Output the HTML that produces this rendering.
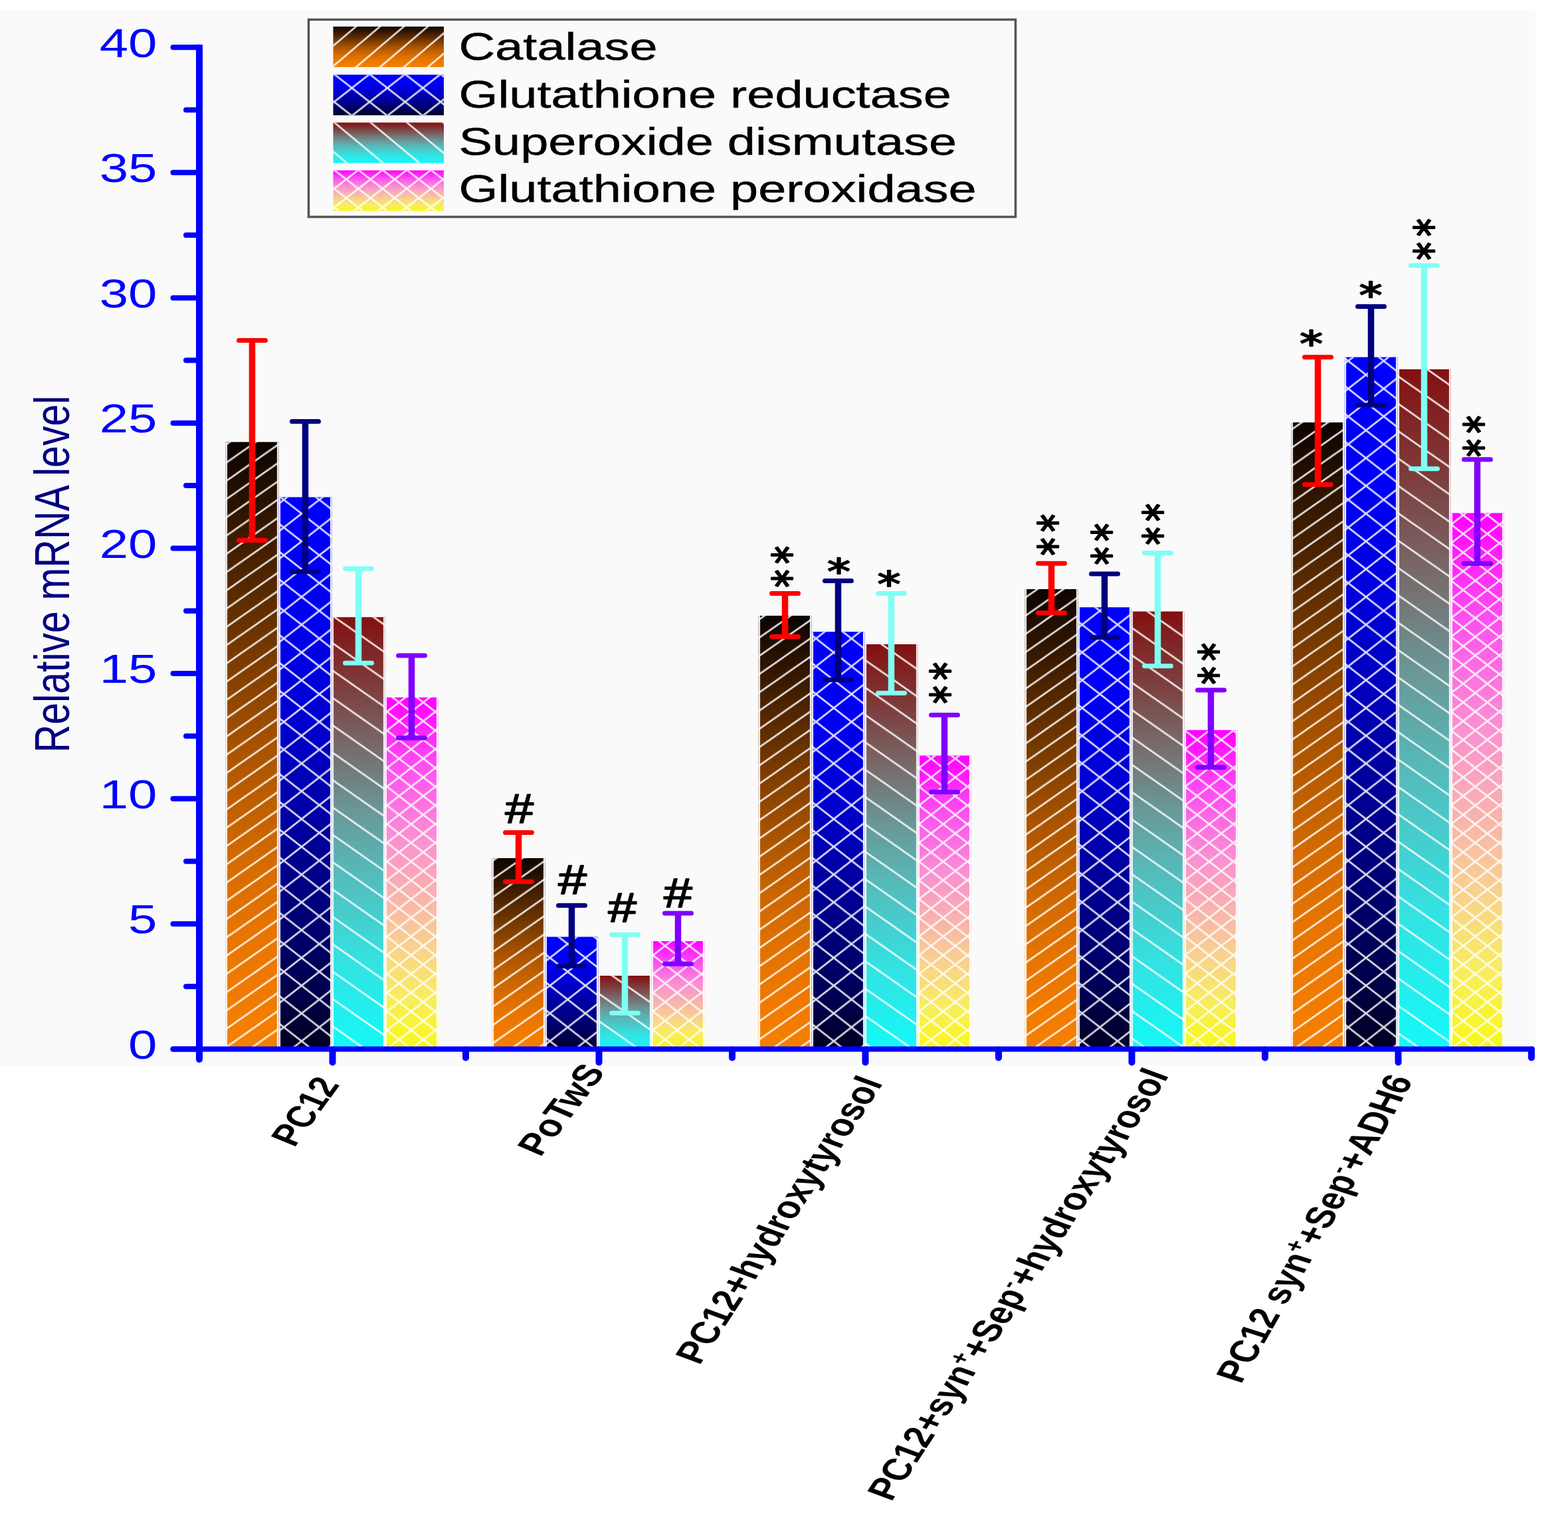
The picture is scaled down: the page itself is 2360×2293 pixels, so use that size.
<!DOCTYPE html><html><head><meta charset="utf-8"><title>Relative mRNA level</title>
<style>html,body{margin:0;padding:0;background:#fff;overflow:hidden;}svg{display:block;}text{font-family:"Liberation Sans",Arial,sans-serif;}</style></head><body>
<svg width="2360" height="2293" viewBox="0 0 2360 2293">
<defs>
<linearGradient id="gCat" x1="0" y1="0" x2="0" y2="1"><stop offset="0" stop-color="#0c0400"/><stop offset="0.1" stop-color="#2a1200"/><stop offset="0.2" stop-color="#4a2200"/><stop offset="0.3" stop-color="#683200"/><stop offset="0.4" stop-color="#884200"/><stop offset="0.5" stop-color="#a85200"/><stop offset="0.6" stop-color="#c06000"/><stop offset="0.7" stop-color="#d66c00"/><stop offset="0.8" stop-color="#e67400"/><stop offset="0.9" stop-color="#f07a00"/><stop offset="1" stop-color="#f58000"/></linearGradient>
<linearGradient id="gGR" x1="0" y1="0" x2="0" y2="1"><stop offset="0" stop-color="#0000ff"/><stop offset="0.2" stop-color="#0000f4"/><stop offset="0.3" stop-color="#0000e4"/><stop offset="0.4" stop-color="#0000d0"/><stop offset="0.5" stop-color="#0000b8"/><stop offset="0.6" stop-color="#00009e"/><stop offset="0.7" stop-color="#000084"/><stop offset="0.8" stop-color="#00006a"/><stop offset="0.9" stop-color="#00004a"/><stop offset="1" stop-color="#000020"/></linearGradient>
<linearGradient id="gSOD" x1="0" y1="0" x2="0" y2="1"><stop offset="0" stop-color="#841010"/><stop offset="0.15" stop-color="#7e3a3a"/><stop offset="0.3" stop-color="#786a6a"/><stop offset="0.45" stop-color="#6a9898"/><stop offset="0.6" stop-color="#54bcbc"/><stop offset="0.8" stop-color="#34e2e2"/><stop offset="1" stop-color="#14f8f8"/></linearGradient>
<linearGradient id="gGPx" x1="0" y1="0" x2="0" y2="1"><stop offset="0" stop-color="#ff00ff"/><stop offset="0.2" stop-color="#fc50f0"/><stop offset="0.4" stop-color="#fa90d2"/><stop offset="0.55" stop-color="#f8b0b0"/><stop offset="0.7" stop-color="#f8d090"/><stop offset="0.85" stop-color="#f8ec60"/><stop offset="1" stop-color="#f8f818"/></linearGradient>
<pattern id="pCat" patternUnits="userSpaceOnUse" x="0" y="0" width="39.286" height="27.500"><path d="M-7.86,5.50L47.14,-33.00M-7.86,33.00L47.14,-5.50M-7.86,60.50L47.14,22.00" stroke="#ffffff" stroke-opacity="0.85" stroke-width="2.7" fill="none"/></pattern>
<pattern id="pCatL" patternUnits="userSpaceOnUse" x="6.8" y="0" width="36.000" height="30.600"><path d="M-7.20,6.12L43.20,-36.72M-7.20,36.72L43.20,-6.12M-7.20,67.32L43.20,24.48" stroke="#ffffff" stroke-opacity="0.85" stroke-width="2.7" fill="none"/></pattern>
<pattern id="pSODL" patternUnits="userSpaceOnUse" x="15.5" y="6.1" width="54.578" height="45.300"><path d="M-10.92,-54.36L65.49,9.06M-10.92,-9.06L65.49,54.36M-10.92,36.24L65.49,99.66" stroke="#ffffff" stroke-opacity="0.85" stroke-width="2.7" fill="none"/></pattern>
<pattern id="pGRL" patternUnits="userSpaceOnUse" x="49" y="7.1" width="53.400" height="41.800"><path d="M-10.68,-50.16L64.08,8.36M-10.68,8.36L64.08,-50.16M-10.68,-8.36L64.08,50.16M-10.68,50.16L64.08,-8.36M-10.68,33.44L64.08,91.96M-10.68,91.96L64.08,33.44" stroke="#ffffff" stroke-opacity="0.85" stroke-width="2.7" fill="none"/></pattern>
<pattern id="pGPxL" patternUnits="userSpaceOnUse" x="11.6" y="16.2" width="36.400" height="28.200"><path d="M-7.28,-33.84L43.68,5.64M-7.28,5.64L43.68,-33.84M-7.28,-5.64L43.68,33.84M-7.28,33.84L43.68,-5.64M-7.28,22.56L43.68,62.04M-7.28,62.04L43.68,22.56" stroke="#ffffff" stroke-opacity="0.85" stroke-width="2.7" fill="none"/></pattern>
<pattern id="pGR" patternUnits="userSpaceOnUse" x="0" y="0" width="53.400" height="41.800"><path d="M-10.68,-50.16L64.08,8.36M-10.68,8.36L64.08,-50.16M-10.68,-8.36L64.08,50.16M-10.68,50.16L64.08,-8.36M-10.68,33.44L64.08,91.96M-10.68,91.96L64.08,33.44" stroke="#ffffff" stroke-opacity="0.85" stroke-width="2.7" fill="none"/></pattern>
<pattern id="pSOD" patternUnits="userSpaceOnUse" x="0" y="0" width="58.857" height="41.200"><path d="M-11.77,-49.44L70.63,8.24M-11.77,-8.24L70.63,49.44M-11.77,32.96L70.63,90.64" stroke="#ffffff" stroke-opacity="0.85" stroke-width="2.7" fill="none"/></pattern>
<pattern id="pGPx" patternUnits="userSpaceOnUse" x="0" y="0" width="36.400" height="28.200"><path d="M-7.28,-33.84L43.68,5.64M-7.28,5.64L43.68,-33.84M-7.28,-5.64L43.68,33.84M-7.28,33.84L43.68,-5.64M-7.28,22.56L43.68,62.04M-7.28,62.04L43.68,22.56" stroke="#ffffff" stroke-opacity="0.85" stroke-width="2.7" fill="none"/></pattern>
</defs>
<rect x="0" y="0" width="2360" height="2293" fill="#ffffff"/>
<rect x="0" y="16" width="2311" height="1588" fill="#fafafa"/>
<rect x="339.5" y="665.5" width="80" height="914.0" fill="url(#gCat)"/>
<rect x="339.5" y="665.5" width="80" height="914.0" fill="url(#pCat)"/>
<path d="M340.8,665.5V1579.5M418.2,665.5V1579.5" stroke="#ffffff" stroke-width="2.6" stroke-opacity="0.9"/>
<rect x="419.5" y="748.5" width="80" height="831.0" fill="url(#gGR)"/>
<rect x="419.5" y="748.5" width="80" height="831.0" fill="url(#pGR)"/>
<path d="M420.8,748.5V1579.5M498.2,748.5V1579.5" stroke="#ffffff" stroke-width="2.6" stroke-opacity="0.9"/>
<rect x="499.5" y="929.2" width="80" height="650.3" fill="url(#gSOD)"/>
<rect x="499.5" y="929.2" width="80" height="650.3" fill="url(#pSOD)"/>
<path d="M500.8,929.2V1579.5M578.2,929.2V1579.5" stroke="#ffffff" stroke-width="2.6" stroke-opacity="0.9"/>
<rect x="579.5" y="1050.0" width="80" height="529.5" fill="url(#gGPx)"/>
<rect x="579.5" y="1050.0" width="80" height="529.5" fill="url(#pGPx)"/>
<path d="M580.8,1050.0V1579.5M658.2,1050.0V1579.5" stroke="#ffffff" stroke-width="2.6" stroke-opacity="0.9"/>
<rect x="740.5" y="1292.0" width="80" height="287.5" fill="url(#gCat)"/>
<rect x="740.5" y="1292.0" width="80" height="287.5" fill="url(#pCat)"/>
<path d="M741.8,1292.0V1579.5M819.2,1292.0V1579.5" stroke="#ffffff" stroke-width="2.6" stroke-opacity="0.9"/>
<rect x="820.5" y="1410.5" width="80" height="169.0" fill="url(#gGR)"/>
<rect x="820.5" y="1410.5" width="80" height="169.0" fill="url(#pGR)"/>
<path d="M821.8,1410.5V1579.5M899.2,1410.5V1579.5" stroke="#ffffff" stroke-width="2.6" stroke-opacity="0.9"/>
<rect x="900.5" y="1469.0" width="80" height="110.5" fill="url(#gSOD)"/>
<rect x="900.5" y="1469.0" width="80" height="110.5" fill="url(#pSOD)"/>
<path d="M901.8,1469.0V1579.5M979.2,1469.0V1579.5" stroke="#ffffff" stroke-width="2.6" stroke-opacity="0.9"/>
<rect x="980.5" y="1417.0" width="80" height="162.5" fill="url(#gGPx)"/>
<rect x="980.5" y="1417.0" width="80" height="162.5" fill="url(#pGPx)"/>
<path d="M981.8,1417.0V1579.5M1059.2,1417.0V1579.5" stroke="#ffffff" stroke-width="2.6" stroke-opacity="0.9"/>
<rect x="1141.5" y="927.0" width="80" height="652.5" fill="url(#gCat)"/>
<rect x="1141.5" y="927.0" width="80" height="652.5" fill="url(#pCat)"/>
<path d="M1142.8,927.0V1579.5M1220.2,927.0V1579.5" stroke="#ffffff" stroke-width="2.6" stroke-opacity="0.9"/>
<rect x="1221.5" y="951.2" width="80" height="628.3" fill="url(#gGR)"/>
<rect x="1221.5" y="951.2" width="80" height="628.3" fill="url(#pGR)"/>
<path d="M1222.8,951.2V1579.5M1300.2,951.2V1579.5" stroke="#ffffff" stroke-width="2.6" stroke-opacity="0.9"/>
<rect x="1301.5" y="970.0" width="80" height="609.5" fill="url(#gSOD)"/>
<rect x="1301.5" y="970.0" width="80" height="609.5" fill="url(#pSOD)"/>
<path d="M1302.8,970.0V1579.5M1380.2,970.0V1579.5" stroke="#ffffff" stroke-width="2.6" stroke-opacity="0.9"/>
<rect x="1381.5" y="1137.5" width="80" height="442.0" fill="url(#gGPx)"/>
<rect x="1381.5" y="1137.5" width="80" height="442.0" fill="url(#pGPx)"/>
<path d="M1382.8,1137.5V1579.5M1460.2,1137.5V1579.5" stroke="#ffffff" stroke-width="2.6" stroke-opacity="0.9"/>
<rect x="1542.5" y="887.0" width="80" height="692.5" fill="url(#gCat)"/>
<rect x="1542.5" y="887.0" width="80" height="692.5" fill="url(#pCat)"/>
<path d="M1543.8,887.0V1579.5M1621.2,887.0V1579.5" stroke="#ffffff" stroke-width="2.6" stroke-opacity="0.9"/>
<rect x="1622.5" y="914.3" width="80" height="665.2" fill="url(#gGR)"/>
<rect x="1622.5" y="914.3" width="80" height="665.2" fill="url(#pGR)"/>
<path d="M1623.8,914.3V1579.5M1701.2,914.3V1579.5" stroke="#ffffff" stroke-width="2.6" stroke-opacity="0.9"/>
<rect x="1702.5" y="920.6" width="80" height="658.9" fill="url(#gSOD)"/>
<rect x="1702.5" y="920.6" width="80" height="658.9" fill="url(#pSOD)"/>
<path d="M1703.8,920.6V1579.5M1781.2,920.6V1579.5" stroke="#ffffff" stroke-width="2.6" stroke-opacity="0.9"/>
<rect x="1782.5" y="1099.2" width="80" height="480.3" fill="url(#gGPx)"/>
<rect x="1782.5" y="1099.2" width="80" height="480.3" fill="url(#pGPx)"/>
<path d="M1783.8,1099.2V1579.5M1861.2,1099.2V1579.5" stroke="#ffffff" stroke-width="2.6" stroke-opacity="0.9"/>
<rect x="1943.5" y="636.0" width="80" height="943.5" fill="url(#gCat)"/>
<rect x="1943.5" y="636.0" width="80" height="943.5" fill="url(#pCat)"/>
<path d="M1944.8,636.0V1579.5M2022.2,636.0V1579.5" stroke="#ffffff" stroke-width="2.6" stroke-opacity="0.9"/>
<rect x="2023.5" y="537.7" width="80" height="1041.8" fill="url(#gGR)"/>
<rect x="2023.5" y="537.7" width="80" height="1041.8" fill="url(#pGR)"/>
<path d="M2024.8,537.7V1579.5M2102.2,537.7V1579.5" stroke="#ffffff" stroke-width="2.6" stroke-opacity="0.9"/>
<rect x="2103.5" y="556.0" width="80" height="1023.5" fill="url(#gSOD)"/>
<rect x="2103.5" y="556.0" width="80" height="1023.5" fill="url(#pSOD)"/>
<path d="M2104.8,556.0V1579.5M2182.2,556.0V1579.5" stroke="#ffffff" stroke-width="2.6" stroke-opacity="0.9"/>
<rect x="2183.5" y="772.4" width="80" height="807.1" fill="url(#gGPx)"/>
<rect x="2183.5" y="772.4" width="80" height="807.1" fill="url(#pGPx)"/>
<path d="M2184.8,772.4V1579.5M2262.2,772.4V1579.5" stroke="#ffffff" stroke-width="2.6" stroke-opacity="0.9"/>
<g stroke="#ff0000" stroke-linecap="round" fill="none"><path d="M379.5,512.5V813.6" stroke-width="9.5" stroke-linecap="butt"/><path d="M359.5,512.5H399.5M359.5,813.6H399.5" stroke-width="7"/></g>
<g stroke="#000080" stroke-linecap="round" fill="none"><path d="M459.5,634.6V860.8" stroke-width="9.5" stroke-linecap="butt"/><path d="M439.5,634.6H479.5M439.5,860.8H479.5" stroke-width="7"/></g>
<g stroke="#80fff4" stroke-linecap="round" fill="none"><path d="M539.5,856.0V998.2" stroke-width="9.5" stroke-linecap="butt"/><path d="M519.5,856.0H559.5M519.5,998.2H559.5" stroke-width="7"/></g>
<g stroke="#8000ff" stroke-linecap="round" fill="none"><path d="M619.5,987.0V1111.0" stroke-width="9.5" stroke-linecap="butt"/><path d="M599.5,987.0H639.5M599.5,1111.0H639.5" stroke-width="7"/></g>
<g stroke="#ff0000" stroke-linecap="round" fill="none"><path d="M780.5,1253.5V1327.5" stroke-width="9.5" stroke-linecap="butt"/><path d="M760.5,1253.5H800.5M760.5,1327.5H800.5" stroke-width="7"/></g>
<g stroke="#000080" stroke-linecap="round" fill="none"><path d="M860.5,1363.3V1454.6" stroke-width="9.5" stroke-linecap="butt"/><path d="M840.5,1363.3H880.5M840.5,1454.6H880.5" stroke-width="7"/></g>
<g stroke="#80fff4" stroke-linecap="round" fill="none"><path d="M940.5,1407.2V1525.2" stroke-width="9.5" stroke-linecap="butt"/><path d="M920.5,1407.2H960.5M920.5,1525.2H960.5" stroke-width="7"/></g>
<g stroke="#8000ff" stroke-linecap="round" fill="none"><path d="M1020.5,1375.0V1451.3" stroke-width="9.5" stroke-linecap="butt"/><path d="M1000.5,1375.0H1040.5M1000.5,1451.3H1040.5" stroke-width="7"/></g>
<g stroke="#ff0000" stroke-linecap="round" fill="none"><path d="M1181.5,893.4V958.5" stroke-width="9.5" stroke-linecap="butt"/><path d="M1161.5,893.4H1201.5M1161.5,958.5H1201.5" stroke-width="7"/></g>
<g stroke="#000080" stroke-linecap="round" fill="none"><path d="M1261.5,874.5V1023.6" stroke-width="9.5" stroke-linecap="butt"/><path d="M1241.5,874.5H1281.5M1241.5,1023.6H1281.5" stroke-width="7"/></g>
<g stroke="#80fff4" stroke-linecap="round" fill="none"><path d="M1341.5,893.4V1043.6" stroke-width="9.5" stroke-linecap="butt"/><path d="M1321.5,893.4H1361.5M1321.5,1043.6H1361.5" stroke-width="7"/></g>
<g stroke="#8000ff" stroke-linecap="round" fill="none"><path d="M1421.5,1076.4V1192.4" stroke-width="9.5" stroke-linecap="butt"/><path d="M1401.5,1076.4H1441.5M1401.5,1192.4H1441.5" stroke-width="7"/></g>
<g stroke="#ff0000" stroke-linecap="round" fill="none"><path d="M1582.5,848.2V922.7" stroke-width="9.5" stroke-linecap="butt"/><path d="M1562.5,848.2H1602.5M1562.5,922.7H1602.5" stroke-width="7"/></g>
<g stroke="#000080" stroke-linecap="round" fill="none"><path d="M1662.5,863.9V959.5" stroke-width="9.5" stroke-linecap="butt"/><path d="M1642.5,863.9H1682.5M1642.5,959.5H1682.5" stroke-width="7"/></g>
<g stroke="#80fff4" stroke-linecap="round" fill="none"><path d="M1742.5,832.4V1002.7" stroke-width="9.5" stroke-linecap="butt"/><path d="M1722.5,832.4H1762.5M1722.5,1002.7H1762.5" stroke-width="7"/></g>
<g stroke="#8000ff" stroke-linecap="round" fill="none"><path d="M1822.5,1038.9V1155.2" stroke-width="9.5" stroke-linecap="butt"/><path d="M1802.5,1038.9H1842.5M1802.5,1155.2H1842.5" stroke-width="7"/></g>
<g stroke="#ff0000" stroke-linecap="round" fill="none"><path d="M1983.5,537.7V729.6" stroke-width="9.5" stroke-linecap="butt"/><path d="M1963.5,537.7H2003.5M1963.5,729.6H2003.5" stroke-width="7"/></g>
<g stroke="#000080" stroke-linecap="round" fill="none"><path d="M2063.5,461.5V609.9" stroke-width="9.5" stroke-linecap="butt"/><path d="M2043.5,461.5H2083.5M2043.5,609.9H2083.5" stroke-width="7"/></g>
<g stroke="#80fff4" stroke-linecap="round" fill="none"><path d="M2143.5,399.8V705.8" stroke-width="9.5" stroke-linecap="butt"/><path d="M2123.5,399.8H2163.5M2123.5,705.8H2163.5" stroke-width="7"/></g>
<g stroke="#8000ff" stroke-linecap="round" fill="none"><path d="M2223.5,691.7V848.4" stroke-width="9.5" stroke-linecap="butt"/><path d="M2203.5,691.7H2243.5M2203.5,848.4H2243.5" stroke-width="7"/></g>
<text transform="translate(781.7,1239.0) scale(1.2220,1)" font-size="63" text-anchor="middle" fill="#000" stroke="#000" stroke-width="1.7" stroke-linejoin="round">#</text>
<text transform="translate(861.7,1346.0) scale(1.2220,1)" font-size="63" text-anchor="middle" fill="#000" stroke="#000" stroke-width="1.7" stroke-linejoin="round">#</text>
<text transform="translate(936.7,1387.5) scale(1.2220,1)" font-size="63" text-anchor="middle" fill="#000" stroke="#000" stroke-width="1.7" stroke-linejoin="round">#</text>
<text transform="translate(1020.5,1365.5) scale(1.2220,1)" font-size="63" text-anchor="middle" fill="#000" stroke="#000" stroke-width="1.7" stroke-linejoin="round">#</text>
<text transform="translate(1177.0,849.0) scale(1.3,1) rotate(-90)" font-size="54" text-anchor="middle" dy="27.8" fill="#000" stroke="#000" stroke-width="1.9" stroke-linejoin="round" letter-spacing="8.5" style="font-family:'DejaVu Sans',sans-serif">**</text>
<text transform="translate(1262.5,879.3) scale(1.3,1)" font-size="54" text-anchor="middle" fill="#000" stroke="#000" stroke-width="1.9" stroke-linejoin="round" style="font-family:'DejaVu Sans',sans-serif">*</text>
<text transform="translate(1338.0,897.8) scale(1.3,1)" font-size="54" text-anchor="middle" fill="#000" stroke="#000" stroke-width="1.9" stroke-linejoin="round" style="font-family:'DejaVu Sans',sans-serif">*</text>
<text transform="translate(1414.5,1024.0) scale(1.3,1) rotate(-90)" font-size="54" text-anchor="middle" dy="27.8" fill="#000" stroke="#000" stroke-width="1.9" stroke-linejoin="round" letter-spacing="8.5" style="font-family:'DejaVu Sans',sans-serif">**</text>
<text transform="translate(1577.0,801.0) scale(1.3,1) rotate(-90)" font-size="54" text-anchor="middle" dy="27.8" fill="#000" stroke="#000" stroke-width="1.9" stroke-linejoin="round" letter-spacing="8.5" style="font-family:'DejaVu Sans',sans-serif">**</text>
<text transform="translate(1657.5,815.0) scale(1.3,1) rotate(-90)" font-size="54" text-anchor="middle" dy="27.8" fill="#000" stroke="#000" stroke-width="1.9" stroke-linejoin="round" letter-spacing="8.5" style="font-family:'DejaVu Sans',sans-serif">**</text>
<text transform="translate(1735.0,785.0) scale(1.3,1) rotate(-90)" font-size="54" text-anchor="middle" dy="27.8" fill="#000" stroke="#000" stroke-width="1.9" stroke-linejoin="round" letter-spacing="8.5" style="font-family:'DejaVu Sans',sans-serif">**</text>
<text transform="translate(1819.0,995.0) scale(1.3,1) rotate(-90)" font-size="54" text-anchor="middle" dy="27.8" fill="#000" stroke="#000" stroke-width="1.9" stroke-linejoin="round" letter-spacing="8.5" style="font-family:'DejaVu Sans',sans-serif">**</text>
<text transform="translate(1973.5,536.3) scale(1.3,1)" font-size="54" text-anchor="middle" fill="#000" stroke="#000" stroke-width="1.9" stroke-linejoin="round" style="font-family:'DejaVu Sans',sans-serif">*</text>
<text transform="translate(2063.0,463.3) scale(1.3,1)" font-size="54" text-anchor="middle" fill="#000" stroke="#000" stroke-width="1.9" stroke-linejoin="round" style="font-family:'DejaVu Sans',sans-serif">*</text>
<text transform="translate(2142.7,356.0) scale(1.3,1) rotate(-90)" font-size="54" text-anchor="middle" dy="27.8" fill="#000" stroke="#000" stroke-width="1.9" stroke-linejoin="round" letter-spacing="8.5" style="font-family:'DejaVu Sans',sans-serif">**</text>
<text transform="translate(2217.5,652.5) scale(1.3,1) rotate(-90)" font-size="54" text-anchor="middle" dy="27.8" fill="#000" stroke="#000" stroke-width="1.9" stroke-linejoin="round" letter-spacing="8.5" style="font-family:'DejaVu Sans',sans-serif">**</text>
<g stroke="#0000ff" fill="none" stroke-linecap="butt">
<path d="M300,67.3V1585" stroke-width="10"/>
<path d="M260.5,1579.5H2306" stroke-width="8" stroke-linecap="round"/>
<path d="M260.5,1579.5H300" stroke-width="8" stroke-linecap="round"/>
<path d="M260.5,1391.0H300" stroke-width="8" stroke-linecap="round"/>
<path d="M260.5,1202.5H300" stroke-width="8" stroke-linecap="round"/>
<path d="M260.5,1013.9H300" stroke-width="8" stroke-linecap="round"/>
<path d="M260.5,825.4H300" stroke-width="8" stroke-linecap="round"/>
<path d="M260.5,636.9H300" stroke-width="8" stroke-linecap="round"/>
<path d="M260.5,448.4H300" stroke-width="8" stroke-linecap="round"/>
<path d="M260.5,259.8H300" stroke-width="8" stroke-linecap="round"/>
<path d="M260.5,71.3H300" stroke-width="8" stroke-linecap="round"/>
<path d="M280,1485.2H300" stroke-width="8" stroke-linecap="round"/>
<path d="M280,1296.7H300" stroke-width="8" stroke-linecap="round"/>
<path d="M280,1108.2H300" stroke-width="8" stroke-linecap="round"/>
<path d="M280,919.7H300" stroke-width="8" stroke-linecap="round"/>
<path d="M280,731.1H300" stroke-width="8" stroke-linecap="round"/>
<path d="M280,542.6H300" stroke-width="8" stroke-linecap="round"/>
<path d="M280,354.1H300" stroke-width="8" stroke-linecap="round"/>
<path d="M280,165.6H300" stroke-width="8" stroke-linecap="round"/>
<path d="M701.0,1580.5V1592.5" stroke-width="10" stroke-linecap="round"/>
<path d="M1102.0,1580.5V1592.5" stroke-width="10" stroke-linecap="round"/>
<path d="M1503.0,1580.5V1592.5" stroke-width="10" stroke-linecap="round"/>
<path d="M1904.0,1580.5V1592.5" stroke-width="10" stroke-linecap="round"/>
<path d="M2305.0,1580.5V1592.5" stroke-width="10" stroke-linecap="round"/>
<path d="M300,1580.5V1595" stroke-width="10" stroke-linecap="round"/>
<path d="M500.5,1580.5V1599.5" stroke-width="10" stroke-linecap="round"/>
<path d="M901.5,1580.5V1599.5" stroke-width="10" stroke-linecap="round"/>
<path d="M1302.5,1580.5V1599.5" stroke-width="10" stroke-linecap="round"/>
<path d="M1703.5,1580.5V1599.5" stroke-width="10" stroke-linecap="round"/>
<path d="M2104.5,1580.5V1599.5" stroke-width="10" stroke-linecap="round"/>
</g>
<text transform="translate(236.5,1593.8) scale(1.2581,1)" font-size="62" text-anchor="end" fill="#0000ff">0</text>
<text transform="translate(236.5,1405.3) scale(1.2581,1)" font-size="62" text-anchor="end" fill="#0000ff">5</text>
<text transform="translate(236.5,1216.8) scale(1.2581,1)" font-size="62" text-anchor="end" fill="#0000ff">10</text>
<text transform="translate(236.5,1028.2) scale(1.2581,1)" font-size="62" text-anchor="end" fill="#0000ff">15</text>
<text transform="translate(236.5,839.7) scale(1.2581,1)" font-size="62" text-anchor="end" fill="#0000ff">20</text>
<text transform="translate(236.5,651.2) scale(1.2581,1)" font-size="62" text-anchor="end" fill="#0000ff">25</text>
<text transform="translate(236.5,462.7) scale(1.2581,1)" font-size="62" text-anchor="end" fill="#0000ff">30</text>
<text transform="translate(236.5,274.1) scale(1.2581,1)" font-size="62" text-anchor="end" fill="#0000ff">35</text>
<text transform="translate(236.5,85.6) scale(1.2581,1)" font-size="62" text-anchor="end" fill="#0000ff">40</text>
<text transform="translate(104,864.5) scale(1.3,1) rotate(-90) scale(1.035,1)" font-size="57" text-anchor="middle" fill="#000080">Relative mRNA level</text>
<rect x="464.5" y="29.5" width="1064" height="297" fill="none" stroke="#555" stroke-width="3.5"/>
<rect x="501.5" y="40" width="166.5" height="61" fill="url(#gCat)"/>
<rect x="501.5" y="40" width="166.5" height="61" fill="url(#pCatL)"/>
<text transform="translate(690.5,89.5) scale(1.3065,1)" font-size="58" fill="#000" stroke="#000" stroke-width="0.5">Catalase</text>
<rect x="501.5" y="112.5" width="166.5" height="61" fill="url(#gGR)"/>
<rect x="501.5" y="112.5" width="166.5" height="61" fill="url(#pGRL)"/>
<text transform="translate(690.5,161.5) scale(1.3065,1)" font-size="58" fill="#000" stroke="#000" stroke-width="0.5">Glutathione reductase</text>
<rect x="501.5" y="184.5" width="166.5" height="61" fill="url(#gSOD)"/>
<rect x="501.5" y="184.5" width="166.5" height="61" fill="url(#pSODL)"/>
<text transform="translate(690.5,232.5) scale(1.3065,1)" font-size="58" fill="#000" stroke="#000" stroke-width="0.5">Superoxide dismutase</text>
<rect x="501.5" y="256.5" width="166.5" height="61" fill="url(#gGPx)"/>
<rect x="501.5" y="256.5" width="166.5" height="61" fill="url(#pGPxL)"/>
<text transform="translate(690.5,303.5) scale(1.3065,1)" font-size="58" fill="#000" stroke="#000" stroke-width="0.5">Glutathione peroxidase</text>
<text transform="translate(512.0,1632.8) scale(1.33,1) rotate(-61.55) scale(0.946,1)" font-size="46" font-weight="bold" text-anchor="end" fill="#000">PC12</text>
<text transform="translate(912.0,1613.6) scale(1.33,1) rotate(-60.15) scale(0.995,1)" font-size="46" font-weight="bold" text-anchor="end" fill="#000">PoTwS</text>
<text transform="translate(1329.6,1630.4) scale(1.33,1) rotate(-63.95) scale(1.0,1)" font-size="46" font-weight="bold" text-anchor="end" fill="#000">PC12+hydroxytyrosol</text>
<text transform="translate(1760.2,1618.8) scale(1.33,1) rotate(-63.91) scale(0.996,1)" font-size="46" font-weight="bold" text-anchor="end" fill="#000">PC12+syn<tspan dy="-16" font-size="30">+</tspan><tspan dy="16">+Sep</tspan><tspan dy="-16" font-size="30">-</tspan><tspan dy="16">+hydroxytyrosol</tspan></text>
<text transform="translate(2127.4,1626.4) scale(1.33,1) rotate(-66.92) scale(1.0,1)" font-size="46" font-weight="bold" text-anchor="end" fill="#000">PC12 syn<tspan dy="-16" font-size="30">+</tspan><tspan dy="16">+Sep</tspan><tspan dy="-16" font-size="30">-</tspan><tspan dy="16">+ADH6</tspan></text>
</svg></body></html>
